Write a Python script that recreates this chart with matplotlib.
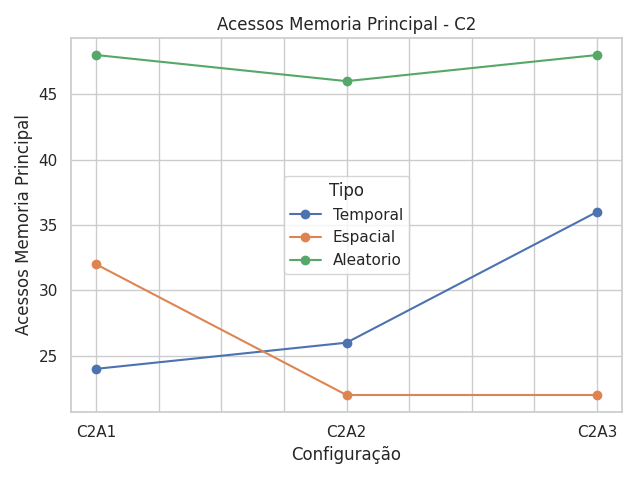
import numpy as np
import matplotlib
matplotlib.use('Agg')
import matplotlib.pyplot as plt
import seaborn as sns

sns.set_theme(style='whitegrid')

configs = ['C2A1', 'C2A2', 'C2A3']
temporal = [24, 26, 36]
espacial = [32, 22, 22]
aleatorio = [48, 46, 48]

fig, ax = plt.subplots(figsize=(6.4, 4.8), dpi=100)
x = np.arange(len(configs))
ax.plot(x, temporal, marker='o', label='Temporal')
ax.plot(x, espacial, marker='o', label='Espacial')
ax.plot(x, aleatorio, marker='o', label='Aleatorio')

# grid every quarter, labels only on the configs
ticks = np.arange(0, 2.01, 0.25)
labels = [configs[int(t)] if t == int(t) else '' for t in ticks]
ax.set_xticks(ticks)
ax.set_xticklabels(labels)

ax.set_title('Acessos Memoria Principal - C2')
ax.set_xlabel('Configuração')
ax.set_ylabel('Acessos Memoria Principal')
ax.legend(title='Tipo', loc='center')
fig.subplots_adjust(left=71/640, right=622/640, top=1-38/480, bottom=1-412/480)
plt.savefig('out.png')
